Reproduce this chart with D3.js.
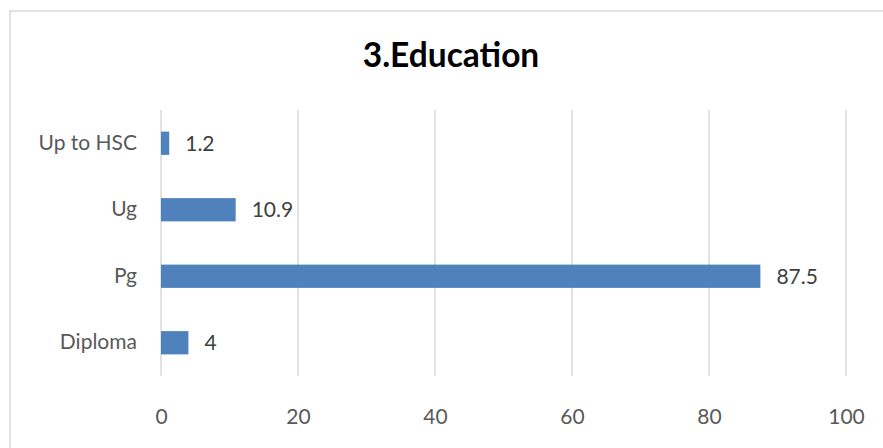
<!DOCTYPE html>
<html>
<head>
<meta charset="utf-8">
<script src="https://cdn.jsdelivr.net/npm/d3@7"></script>
<style>
  body { margin: 0; background: #fff; }
  svg { display: block; font-family: Lato, "Open Sans", sans-serif; }
</style>
</head>
<body>
<div class="chart"></div>
<script>
// data
const categories = ["Up to HSC", "Ug", "Pg", "Diploma"];
const values = [1.2, 10.9, 87.5, 4];
const xTicks = [0, 20, 40, 60, 80, 100];
const title = "3.Education";

const width = 883, height = 448;
const plot = { left: 161, right: 846, top: 110, bottom: 376 };

const svg = d3.select('.chart').append('svg')
  .attr('width', width).attr('height', height);

// chart frame (runs off the right and bottom edge)
svg.append('rect')
  .attr('x', 10).attr('y', 11)
  .attr('width', 900).attr('height', 460)
  .attr('fill', '#fff')
  .attr('stroke', '#d9d9d9')
  .attr('stroke-width', 1.5);

svg.append('text')
  .attr('x', 451).attr('y', 67)
  .attr('text-anchor', 'middle')
  .attr('font-size', 33.5)
  .attr('font-weight', 'bold')
  .attr('fill', '#000')
  .text(title);

const xScale = d3.scaleLinear()
  .domain([0, 100])
  .range([plot.left, plot.right]);

const yScale = d3.scaleBand()
  .domain(categories)
  .range([plot.top, plot.bottom])
  .paddingInner(0.65)
  .paddingOuter(0.325);

// vertical gridlines
svg.append('g').attr('class', 'grid')
  .selectAll('line')
  .data(xTicks)
  .join('line')
  .attr('x1', d => xScale(d)).attr('x2', d => xScale(d))
  .attr('y1', plot.top).attr('y2', plot.bottom)
  .attr('stroke', '#d9d9d9')
  .attr('stroke-width', 1.5);

// x axis labels
const xAxis = d3.axisBottom(xScale).tickValues(xTicks).tickSize(0).tickPadding(0);
const gx = svg.append('g')
  .attr('transform', 'translate(0,' + plot.bottom + ')')
  .call(xAxis);
gx.select('.domain').remove();
gx.selectAll('text')
  .attr('dy', null)
  .attr('y', 48)
  .attr('font-size', 21)
  .attr('font-family', 'Lato, "Open Sans", sans-serif')
  .attr('fill', '#595959');

// y axis labels
const yAxis = d3.axisLeft(yScale).tickSize(0).tickPadding(24);
const gy = svg.append('g')
  .attr('transform', 'translate(' + plot.left + ',0)')
  .call(yAxis);
gy.select('.domain').remove();
gy.selectAll('text')
  .attr('font-size', 21)
  .attr('font-family', 'Lato, "Open Sans", sans-serif')
  .attr('fill', '#595959');

// bars
svg.append('g')
  .selectAll('rect')
  .data(values)
  .join('rect')
  .attr('x', xScale(0))
  .attr('y', (d, i) => yScale(categories[i]))
  .attr('width', d => xScale(d) - xScale(0))
  .attr('height', yScale.bandwidth())
  .attr('fill', '#4f81bd');

// data labels
svg.append('g')
  .selectAll('text')
  .data(values)
  .join('text')
  .attr('x', d => xScale(d) + 16)
  .attr('y', (d, i) => yScale(categories[i]) + yScale.bandwidth() / 2)
  .attr('dy', '0.35em')
  .attr('font-size', 21)
  .attr('fill', '#404040')
  .text(d => d);
</script>
</body>
</html>
